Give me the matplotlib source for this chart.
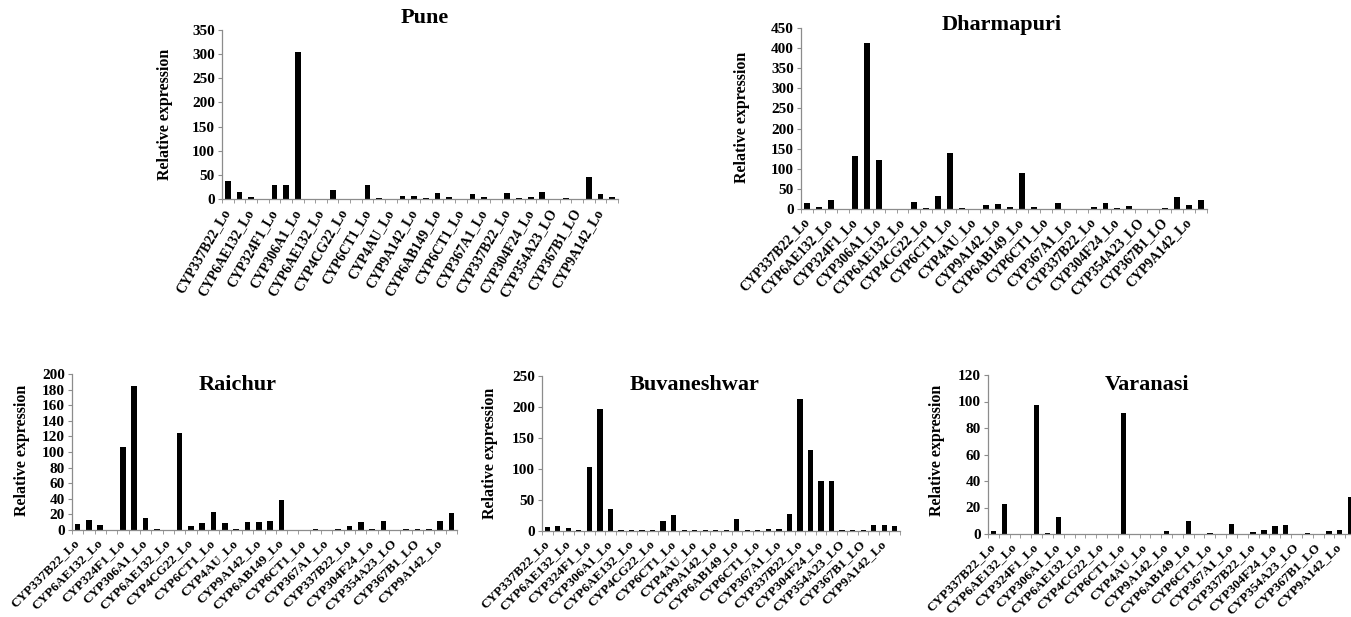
import numpy as np
import matplotlib
matplotlib.use("Agg")
import matplotlib.pyplot as plt

plt.rcParams['font.family'] = ['Liberation Serif', 'DejaVu Serif']
plt.rcParams['font.weight'] = 'bold'

genes = ["CYP337B22_Lo", "", "CYP6AE132_Lo", "", "CYP324F1_Lo", "", "CYP306A1_Lo", "",
         "CYP6AE132_Lo", "", "CYP4CG22_Lo", "", "CYP6CT1_Lo", "", "CYP4AU_Lo", "",
         "CYP9A142_Lo", "", "CYP6AB149_Lo", "", "CYP6CT1_Lo", "", "CYP367A1_Lo", "",
         "CYP337B22_Lo", "", "CYP304F24_Lo", "", "CYP354A23_LO", "", "CYP367B1_LO", "",
         "CYP9A142_Lo", ""]

pune = [38, 14, 5, 0, 30, 30, 305, 0, 0, 18, 0, 0, 30, 2.5, 0, 7, 7, 3,
        12, 5, 0, 10, 5, 0, 12, 2.5, 4.5, 15, 0, 2.5, 0, 45, 11, 5]
dharmapuri = [16, 5, 22, 0, 133, 412, 122, 0, 0, 18, 3, 32, 138, 2, 0, 10, 12, 6,
              90, 6, 0, 14, 0, 0, 5.5, 14, 2, 7, 0, 0, 2, 29, 11, 23]
raichur = [7.5, 13, 6, 0, 106, 185, 16, 1, 0, 124, 5.5, 8.5, 23, 8.5, 1, 10, 10, 11,
           39, 0, 0, 1, 0, 1, 5.5, 10, 1.5, 12, 0, 1, 1, 1, 12, 22]
buvaneshwar = [7, 8, 4.5, 1.5, 103, 197, 36, 1.5, 1.5, 1.5, 1.5, 16, 26, 1.5, 1.5, 1.5, 1.5, 1.5,
               19, 1.5, 1.5, 2.5, 4, 27, 213, 131, 80, 80, 1.5, 1.5, 1.5, 9, 10, 8]
varanasi = [2.5, 23, 0, 0, 97, 0.5, 12.5, 0, 0, 0, 0, 0, 91, 0, 0, 0, 2.5, 0,
            10, 0, 0.5, 0, 7.5, 0, 1.8, 3, 5.7, 7, 0, 0.5, 0, 2.5, 3, 28]

W, H = 1351, 617
fig = plt.figure(figsize=(W / 100, H / 100), dpi=100)
fig.patch.set_facecolor('white')

# name, values, ymax, ystep, axes box px (left, top, right, bottom), title xy, ylabel xy, rotation, label size
panels = [
    ("Pune", pune, 350, 50, (222, 30, 618, 199), (425, 18), (165, 114), 60, 10),
    ("Dharmapuri", dharmapuri, 450, 50, (801, 28, 1207, 209), (1002, 25), (742, 117), 47, 10),
    ("Raichur", raichur, 200, 20, (72, 374, 457, 530), (238, 385), (22, 450), 45, 9.5),
    ("Buvaneshwar", buvaneshwar, 250, 50, (542, 376, 900, 531), (695, 385), (490, 453), 45, 9.5),
    ("Varanasi", varanasi, 120, 20, (988, 375, 1356, 534), (1147, 385), (937, 450), 45, 9.5),
]

grey = '#8c8c8c'
for name, vals, ymax, ystep, box, tpos, lpos, rot, fs in panels:
    l, t, r, b = box
    ax = fig.add_axes([l / W, 1 - b / H, (r - l) / W, (b - t) / H])
    x = np.arange(len(vals))
    ax.bar(x, vals, width=0.5, color='black')
    ax.set_xlim(-0.5, len(vals) - 0.5)
    ax.set_ylim(0, ymax)
    ax.set_yticks(np.arange(0, ymax + 1, ystep))
    ax.tick_params(axis='y', labelsize=11, length=3, color=grey, pad=2)
    ax.set_xticks(x)
    ax.set_xticklabels(genes, rotation=rot, ha='right', va='center',
                       rotation_mode='anchor', fontsize=fs)
    ax.tick_params(axis='x', length=0, pad=8)
    ax.set_xticks(np.arange(-0.5, len(vals), 1), minor=True)
    ax.tick_params(axis='x', which='minor', length=3, color=grey)
    for s in ['top', 'right']:
        ax.spines[s].set_visible(False)
    for s in ['left', 'bottom']:
        ax.spines[s].set_color(grey)
        ax.spines[s].set_linewidth(0.9)
    for lab in ax.get_yticklabels() + ax.get_xticklabels():
        lab.set_fontweight('bold')
    fig.text(tpos[0] / W, 1 - tpos[1] / H, name, ha='center', va='center',
             fontsize=16, fontweight='bold')
    fig.text(lpos[0] / W, 1 - lpos[1] / H, "Relative expression", ha='center', va='center',
             rotation=90, fontsize=11.5, fontweight='bold')

fig.savefig('out.png', dpi=100)
